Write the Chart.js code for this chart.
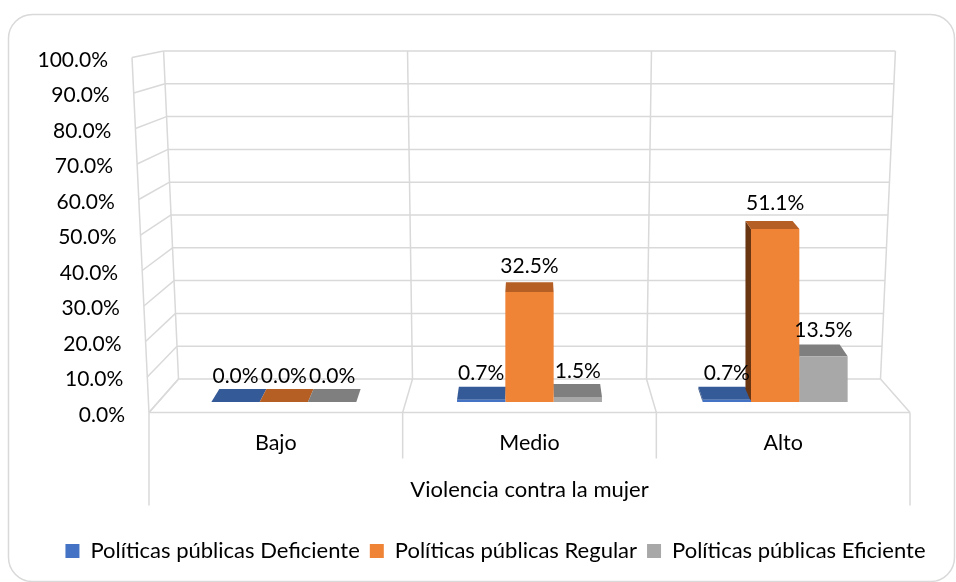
<!DOCTYPE html>
<html>
<head>
<meta charset="utf-8">
<script src="https://cdn.jsdelivr.net/npm/chart.js@4.4.1/dist/chart.umd.min.js"></script>
<style>
html,body{margin:0;padding:0;background:#fff;}
canvas{display:block;}
</style>
</head>
<body>
<canvas id="c" width="956" height="582"></canvas>
<script>
// ---- data ----
const categories = ['Bajo', 'Medio', 'Alto'];
const seriesNames = ['Políticas públicas Deficiente', 'Políticas públicas Regular', 'Políticas públicas Eficiente'];
const deficiente = [0.0, 0.7, 0.7];
const regular = [0.0, 32.5, 51.1];
const eficiente = [0.0, 1.5, 13.5];
const yTickValues = [0, 10, 20, 30, 40, 50, 60, 70, 80, 90, 100];
const yTickLabels = yTickValues.map(v => v.toFixed(1) + '%');
const axisTitle = 'Violencia contra la mujer';

// ---- style ----
const FONT = 'Lato';
const frontColors = ['#4472C4', '#EF8336', '#A8A8A8'];
const topColors = ['#355A98', '#B65F25', '#7F7F7F'];
const sideColors = ['#2A4676', '#6A3612', '#5F5F5F'];
const gridColor = '#d9d9d9';

function geo(chart) {
  const xs = chart.scales.x, yW = chart.scales.yW, yL = chart.scales.yL;
  const L = xs.left, R = xs.right, cx = (L + R) / 2;
  const back = (x, v) => cx + (x - cx) * (0.9525 + 0.0405 * v / 100);
  const outer = (x, v) => cx + (x - cx) * (1.0326 + 0.0461 * v / 100);
  const yw = v => yW.getPixelForValue(v);
  const yo = v => yL.getPixelForValue(v) - 2.5;
  const n = chart.data.labels.length;
  const w = (R - L) / n;
  const bounds = [];
  for (let i = 0; i <= n; i++) bounds.push(L + i * w);
  return {xs, yL, L, R, cx, back, outer, yw, yo, bounds};
}

function line(ctx, x1, y1, x2, y2) {
  ctx.beginPath(); ctx.moveTo(x1, y1); ctx.lineTo(x2, y2); ctx.stroke();
}
function poly(ctx, pts, color) {
  ctx.beginPath();
  ctx.moveTo(pts[0][0], pts[0][1]);
  for (let i = 1; i < pts.length; i++) ctx.lineTo(pts[i][0], pts[i][1]);
  ctx.closePath();
  ctx.fillStyle = color; ctx.fill();
}

const plugin3d = {
  id: 'plugin3d',
  beforeDatasetsDraw(chart) {
    const ctx = chart.ctx;
    const g = geo(chart);
    ctx.save();
    ctx.strokeStyle = gridColor;
    ctx.lineWidth = 1.5;
    // back wall horizontal lines
    yTickValues.forEach(v => line(ctx, g.back(g.L, v), g.yw(v), g.back(g.R, v), g.yw(v)));
    // back wall verticals
    g.bounds.forEach(b => line(ctx, g.back(b, 100), g.yw(100), g.back(b, 0), g.yw(0)));
    // side wall
    line(ctx, g.outer(g.L, 100), g.yo(100), g.outer(g.L, 0), g.yo(0));
    yTickValues.forEach(v => line(ctx, g.outer(g.L, v), g.yo(v), g.back(g.L, v), g.yw(v)));
    // floor
    line(ctx, g.outer(g.L, 0), g.yo(0), g.outer(g.R, 0), g.yo(0));
    g.bounds.forEach(b => line(ctx, g.back(b, 0), g.yw(0), g.outer(b, 0), g.yo(0)));
    // category separators below floor
    g.bounds.forEach((b, i) => {
      const outerEdge = (i === 0 || i === g.bounds.length - 1);
      line(ctx, g.outer(b, 0), g.yo(0), g.outer(b, 0), g.yo(0) + (outerEdge ? 93 : 46));
    });
    // 3D faces of bars
    const dxAt = xx => (g.cx - xx) * 0.025;
    chart.data.datasets.forEach((ds, d) => {
      const meta = chart.getDatasetMeta(d);
      meta.data.forEach(el => {
        const p = el.getProps(['x', 'y', 'base', 'width'], true);
        const xl = p.x - p.width / 2, xr = p.x + p.width / 2;
        const dyAt = yy => 13 - (p.base - yy) * 0.029;
        const dyT = dyAt(p.y), dyB = dyAt(p.base);
        if (dxAt(xl) < -1) {
          poly(ctx, [[xl, p.base], [xl, p.y], [xl + dxAt(xl), p.y - dyT], [xl + dxAt(xl), p.base - dyB]], sideColors[d]);
        }
        if (dxAt(xr) > 1) {
          poly(ctx, [[xr, p.base], [xr, p.y], [xr + dxAt(xr), p.y - dyT], [xr + dxAt(xr), p.base - dyB]], sideColors[d]);
        }
        poly(ctx, [[xl, p.y], [xr, p.y], [xr + dxAt(xr), p.y - dyT], [xl + dxAt(xl), p.y - dyT]], topColors[d]);
      });
    });
    ctx.restore();
  },
  afterDatasetsDraw(chart) {
    const ctx = chart.ctx;
    ctx.save();
    ctx.font = '21px ' + FONT;
    ctx.fillStyle = '#000';
    ctx.textAlign = 'center';
    ctx.textBaseline = 'middle';
    chart.data.datasets.forEach((ds, d) => {
      const meta = chart.getDatasetMeta(d);
      meta.data.forEach((el, i) => {
        ctx.fillText(ds.data[i].toFixed(1) + '%', el.x, el.y - 26);
      });
    });
    ctx.restore();
  },
  afterDraw(chart) {
    const ctx = chart.ctx;
    const g = geo(chart);
    ctx.save();
    ctx.font = '21px ' + FONT;
    ctx.fillStyle = '#000';
    ctx.textBaseline = 'middle';
    ctx.textAlign = 'right';
    yTickValues.forEach((v, i) => {
      ctx.fillText(yTickLabels[i], g.outer(g.L, v) - 24, g.yL.getPixelForValue(v));
    });
    ctx.font = '21.5px ' + FONT;
    ctx.textAlign = 'center';
    chart.data.labels.forEach((lab, i) => {
      ctx.fillText(lab, g.outer(g.xs.getPixelForValue(i), 0), g.yo(0) + 31);
    });
    // chart border
    ctx.strokeStyle = gridColor;
    ctx.lineWidth = 1.5;
    ctx.beginPath();
    ctx.roundRect(8.5, 14.5, 946, 567, 24);
    ctx.stroke();
    ctx.restore();
  }
};

new Chart(document.getElementById('c'), {
  type: 'bar',
  data: {
    labels: categories,
    datasets: [
      {label: seriesNames[0], data: deficiente, backgroundColor: frontColors[0], yAxisID: 'y'},
      {label: seriesNames[1], data: regular, backgroundColor: frontColors[1], yAxisID: 'y'},
      {label: seriesNames[2], data: eficiente, backgroundColor: frontColors[2], yAxisID: 'y'}
    ]
  },
  options: {
    responsive: false,
    animation: false,
    layout: {padding: {left: 36, right: 1, top: 51, bottom: 10}},
    datasets: {bar: {categoryPercentage: 0.59, barPercentage: 1, borderWidth: 0}},
    scales: {
      x: {
        offset: true,
        grid: {display: false},
        border: {display: false},
        ticks: {display: false},
        title: {display: true, text: axisTitle, color: '#000', font: {family: FONT, size: 22}, padding: {top: 27, bottom: 27}},
        afterFit: s => { s.height = 115; }
      },
      y: {display: false, min: -3.84, max: 103.66},
      yL: {
        position: 'left', min: 0, max: 102.54,
        grid: {display: false}, border: {display: false}, ticks: {display: false},
        afterFit: s => { s.width = 125; }
      },
      yW: {
        position: 'right', min: -10.98, max: 100,
        grid: {display: false}, border: {display: false}, ticks: {display: false},
        afterFit: s => { s.width = 57; }
      }
    },
    plugins: {
      legend: {
        position: 'bottom',
        labels: {boxWidth: 14, boxHeight: 14, padding: 10, color: '#000', font: {family: FONT, size: 22}}
      },
      tooltip: {enabled: false}
    }
  },
  plugins: [plugin3d]
});
</script>
</body>
</html>
